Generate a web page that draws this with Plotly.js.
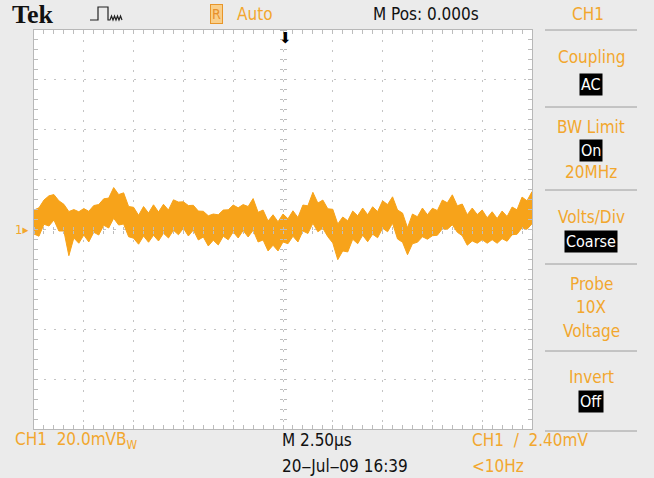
<!DOCTYPE html>
<html><head><meta charset="utf-8">
<script src="https://cdn.plot.ly/plotly-3.0.1.min.js"></script>
<style>html,body{margin:0;padding:0;background:#ebebeb;}</style>
</head><body><div id="chart" style="width:654px;height:478px;"></div>
<script>
// time axis in microseconds (M 2.50us/div, M Pos 0.000s)
const timeUs = [-12.5,-12.25,-12,-11.75,-11.5,-11.25,-11,-10.75,-10.5,-10.25,-10,-9.75,-9.5,-9.25,-9,-8.75,-8.5,-8.25,-8,-7.75,-7.5,-7.25,-7,-6.75,-6.5,-6.25,-6,-5.75,-5.5,-5.25,-5,-4.75,-4.5,-4.25,-4,-3.75,-3.5,-3.25,-3,-2.75,-2.5,-2.25,-2,-1.75,-1.5,-1.25,-1,-0.75,-0.5,-0.25,0,0.25,0.5,0.75,1,1.25,1.5,1.75,2,2.25,2.5,2.75,3,3.25,3.5,3.75,4,4.25,4.5,4.75,5,5.25,5.5,5.75,6,6.25,6.5,6.75,7,7.25,7.5,7.75,8,8.25,8.5,8.75,9,9.25,9.5,9.75,10,10.25,10.5,10.75,11,11.25,11.5,11.75,12,12.25,12.5];
// CH1 noisy trace envelope (mV), upper and lower edge of the band
const ch1Upper = [7.8,8.7,11.8,13.5,14.0,11.5,10.1,7.2,8.0,7.1,8.4,7.3,9.6,10.0,12.3,12.6,16.8,14.0,14.7,9.2,8.9,5.7,9.2,6.6,9.9,7.0,10.1,7.8,11.9,11.0,11.1,9.6,9.7,7.4,7.3,5.5,6.2,5.9,7.8,7.9,9.8,8.7,10.0,9.2,12.4,6.9,7.8,3.4,5.9,3.1,6.2,4.3,7.5,4.8,9.8,9.5,14.9,10.6,11.8,8.3,8.1,2.2,5.0,3.5,7.4,5.5,8.6,5.9,9.1,7.2,11.5,10.0,13.1,7.8,6.6,0.7,6.2,5.1,8.6,5.9,8.5,7.6,11.8,10.7,13.9,9.5,10.2,5.9,8.6,6.0,7.8,4.7,7.1,4.4,7.4,5.2,9.0,7.9,13.0,11.5,15.2];
const ch1Lower = [-1.8,-2.7,2.1,1.4,3.8,-0.6,-0.6,-10.5,-3.4,-5.5,-2.2,-5.0,-1.1,-2.2,1.7,0.6,4.5,1.8,2.2,-2.9,-3.5,-5.9,-2.6,-5.1,-2.3,-4.6,-1.5,-3.4,-0.3,-2.1,0.5,-2.6,-0.2,-4.2,-3.0,-6.6,-4.3,-6.2,-2.7,-4.1,-1.0,-3.4,-0.4,-3.0,-0.3,-5.0,-4.2,-8.6,-6.3,-8.6,-5.0,-5.7,-2.7,-5.0,-0.6,-1.6,2.5,-0.9,0.5,-2.9,-5.4,-12.1,-8.6,-9.0,-3.9,-5.7,-2.3,-4.9,-1.9,-3.3,0.5,-0.9,2.5,-3.8,-5.1,-10.1,-5.7,-5.1,-2.9,-3.9,-2.5,-2.3,0.3,0.1,1.9,-1.1,-2.5,-6.3,-4.6,-5.5,-4.1,-5.5,-4.1,-5.5,-3.7,-4.7,-2.1,-1.9,0.7,0.1,2.3];
const xRange = [-12.5, 12.5];
const yRange = [-80, 80];
const xDiv = 2.5, yDiv = 20;

const ORANGE = '#f7a31a';
const TXT_OR = '#f2a72e';
const NARROW = '"Liberation Sans Narrow", "DejaVu Sans Condensed", sans-serif';
const W = 654, H = 478, L = 34, R = 532, T = 30, B = 429;
const px = x => (x - L) / (R - L);
const py = y => (B - y) / (B - T);

function txt(x, y, text, opts) {
  opts = opts || {};
  return Object.assign({
    xref: 'paper', yref: 'paper', x: px(x), y: py(y), text: text,
    showarrow: false, xanchor: opts.anchor || 'left', yanchor: 'middle',
    font: {family: opts.family || NARROW, size: opts.size || 17, color: opts.color || '#111'}
  }, opts.extra || {});
}
function boxTxt(x, y, text) {
  return txt(x, y, text, {anchor: 'center', color: '#fff', size: 16,
    extra: {bgcolor: '#000', borderpad: 1}});
}

const traces = [
  {x: timeUs, y: ch1Lower, type: 'scatter', mode: 'lines', line: {color: ORANGE, width: 1}, hoverinfo: 'skip', showlegend: false},
  {x: timeUs, y: ch1Upper, type: 'scatter', mode: 'lines', line: {color: ORANGE, width: 1}, fill: 'tonexty', fillcolor: ORANGE, hoverinfo: 'skip', showlegend: false},
  // carriers for the centre crosshair tick axes
  {x: [], y: [], xaxis: 'x2', yaxis: 'y', showlegend: false},
  {x: [], y: [], xaxis: 'x3', yaxis: 'y', showlegend: false},
  {x: [], y: [], xaxis: 'x', yaxis: 'y2', showlegend: false},
  {x: [], y: [], xaxis: 'x', yaxis: 'y3', showlegend: false}
];

const gridCol = '#c4c4c4';
const baseX = {range: xRange, dtick: xDiv, tick0: 0, showticklabels: false, zeroline: false, fixedrange: true};
const baseY = {range: yRange, dtick: yDiv, tick0: 0, showticklabels: false, zeroline: false, fixedrange: true};
const centreX = side => Object.assign({}, baseX, {overlaying: 'x', anchor: 'free', position: 0.5, side: side, showgrid: false, showline: false,
  ticks: 'outside', ticklen: 3, tickcolor: '#bdbdbd', minor: {dtick: xDiv / 5, ticks: 'outside', ticklen: 3, tickcolor: '#bdbdbd'}});
const centreY = side => Object.assign({}, baseY, {overlaying: 'y', anchor: 'free', position: 0.5, side: side, showgrid: false, showline: false,
  ticks: 'outside', ticklen: 3, tickcolor: '#bdbdbd', minor: {dtick: yDiv / 5, ticks: 'outside', ticklen: 3, tickcolor: '#bdbdbd'}});

const seps = [30, 107, 190, 264, 351, 431];
const shapes = seps.map(y => ({type: 'line', xref: 'paper', yref: 'paper', x0: px(545), x1: px(637), y0: py(y), y1: py(y), line: {color: '#9c9c9c', width: 1}}));
// pulse icon
shapes.push({type: 'path', xref: 'paper', yref: 'paper',
  path: 'M' + px(90) + ',' + py(20) + ' L' + px(98) + ',' + py(20) + ' L' + px(98) + ',' + py(7) + ' L' + px(108) + ',' + py(7) + ' L' + px(108) + ',' + py(20) +
        ' L' + px(110) + ',' + py(20) + ' L' + px(111.5) + ',' + py(16) + ' L' + px(113) + ',' + py(20) + ' L' + px(114.5) + ',' + py(16) + ' L' + px(116) + ',' + py(20) +
        ' L' + px(117.5) + ',' + py(16) + ' L' + px(119) + ',' + py(20) + ' L' + px(120.5) + ',' + py(16) + ' L' + px(122) + ',' + py(20),
  line: {color: '#222', width: 1.2}});

const annotations = [
  txt(10, 14, '<b>Tek</b>', {family: '"Liberation Serif", "DejaVu Serif", serif', size: 26, color: '#111'}),
  txt(216, 14, 'R', {anchor: 'center', size: 14, color: '#e8902a', extra: {bgcolor: '#f9cf8a', bordercolor: '#e8962a', borderwidth: 1, borderpad: 1}}),
  txt(235, 14, 'Auto', {color: TXT_OR}),
  txt(371, 14, 'M Pos: 0.000s'),
  txt(588, 14, 'CH1', {anchor: 'center', color: TXT_OR}),
  txt(285, 38, '⬇', {anchor: 'center', size: 15, color: '#000', family: 'DejaVu Sans'}),
  txt(13, 229, '1▸', {size: 13, color: TXT_OR}),
  txt(591, 57, 'Coupling', {anchor: 'center', color: TXT_OR}),
  boxTxt(591, 84, 'AC'),
  txt(591, 127, 'BW Limit', {anchor: 'center', color: TXT_OR}),
  boxTxt(591, 150, 'On'),
  txt(591, 172, '20MHz', {anchor: 'center', color: TXT_OR}),
  txt(591, 217, 'Volts/Div', {anchor: 'center', color: TXT_OR}),
  boxTxt(591, 241, 'Coarse'),
  txt(591, 284, 'Probe', {anchor: 'center', color: TXT_OR}),
  txt(591, 307, '10X', {anchor: 'center', color: TXT_OR}),
  txt(591, 331, 'Voltage', {anchor: 'center', color: TXT_OR}),
  txt(591, 377, 'Invert', {anchor: 'center', color: TXT_OR}),
  boxTxt(591, 401, 'Off'),
  txt(13, 440, 'CH1  20.0mVB<sub>W</sub>', {color: TXT_OR}),
  txt(280, 440, 'M 2.50µs'),
  txt(280, 466, '20‒Jul‒09 16:39'),
  txt(470, 440, 'CH1  /  2.40mV', {color: TXT_OR}),
  txt(470, 466, '<10Hz', {color: TXT_OR})
];

const layout = {
  width: W, height: H,
  margin: {l: L, r: W - R, t: T, b: H - B, pad: 0},
  paper_bgcolor: '#ebebeb', plot_bgcolor: '#ffffff',
  showlegend: false,
  xaxis: Object.assign({}, baseX, {showgrid: true, gridcolor: gridCol, griddash: '2px,8px', gridwidth: 1,
    showline: true, linecolor: '#b8b8b8', linewidth: 1, mirror: 'allticks',
    ticks: 'inside', ticklen: 4, tickcolor: '#bdbdbd', minor: {dtick: xDiv / 5, ticks: 'inside', ticklen: 4, tickcolor: '#bdbdbd'}}),
  yaxis: Object.assign({}, baseY, {showgrid: true, gridcolor: gridCol, griddash: '2px,8px', gridwidth: 1,
    showline: true, linecolor: '#b8b8b8', linewidth: 1, mirror: 'allticks',
    ticks: 'inside', ticklen: 4, tickcolor: '#bdbdbd', minor: {dtick: yDiv / 5, ticks: 'inside', ticklen: 4, tickcolor: '#bdbdbd'}}),
  xaxis2: centreX('bottom'), xaxis3: centreX('top'),
  yaxis2: centreY('left'), yaxis3: centreY('right'),
  shapes: shapes,
  annotations: annotations
};

Plotly.newPlot('chart', traces, layout, {staticPlot: true, displayModeBar: false});
</script></body></html>
